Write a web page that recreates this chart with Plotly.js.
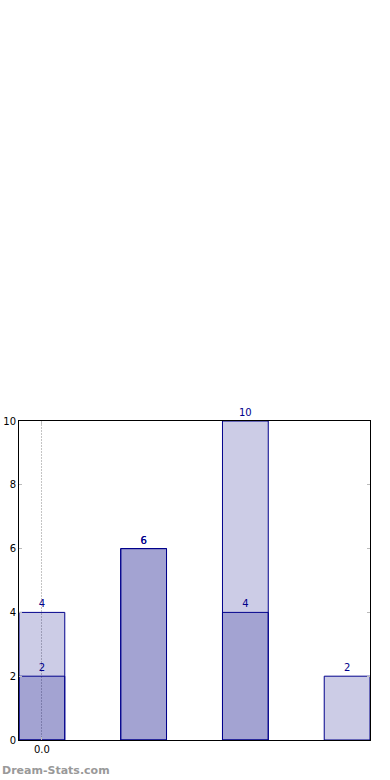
<!DOCTYPE html>
<html>
<head>
<meta charset="utf-8">
<script src="https://cdn.plot.ly/plotly-3.0.1.min.js"></script>
<style>html,body{margin:0;padding:0;background:#fff;}#chart{width:390px;height:780px;}</style>
</head>
<body>
<div id="chart"></div>
<script>
const positions = [0, 1, 2, 3];
const seriesLight = [4, 6, 10, 2];
const seriesDark = [2, 6, 4, null];
const xTickVals = [0];
const xTickText = ["0.0"];
const yTickVals = [0, 2, 4, 6, 8, 10];

const barStyle = {
  color: 'rgba(0,0,128,0.2)',
  line: {color: '#00008B', width: 1}
};
function mk(vals) {
  return {
    type: 'bar', x: positions, y: vals, width: 0.45,
    marker: barStyle,
    text: vals.map(v => v == null ? '' : String(v)),
    textposition: 'outside', cliponaxis: false,
    textfont: {family: 'DejaVu Sans', size: 10, color: '#00008B'},
    hoverinfo: 'none', showlegend: false
  };
}
const data = [mk(seriesLight), mk(seriesDark)];
const layout = {
  width: 390, height: 780,
  margin: {l: 19, r: 20, t: 421, b: 40, pad: 0},
  paper_bgcolor: '#fff', plot_bgcolor: '#fff',
  barmode: 'overlay',
  font: {family: 'DejaVu Sans', size: 10, color: '#000'},
  xaxis: {
    range: [-0.225, 3.225], tickmode: 'array', tickvals: xTickVals, ticktext: xTickText,
    showgrid: true, gridcolor: '#c4c4c4', griddash: '2px,1px', gridwidth: 1,
    zeroline: false, showline: true, linecolor: '#000', linewidth: 1, mirror: 'ticks',
    ticks: 'inside', ticklen: 3, tickcolor: '#bbbbbb'
  },
  yaxis: {
    range: [0, 10], tickmode: 'array', tickvals: yTickVals,
    showgrid: false, zeroline: false, showline: true, linecolor: '#000', linewidth: 1, mirror: 'ticks',
    ticks: 'inside', ticklen: 3, tickcolor: '#bbbbbb'
  },
  annotations: [{
    text: '<b>Dream-Stats.com</b>', xref: 'paper', yref: 'paper',
    x: -19/351, y: -30/319, xanchor: 'left', yanchor: 'middle', showarrow: false,
    font: {family: 'DejaVu Sans', size: 11, color: '#999999'}
  }]
};
Plotly.newPlot('chart', data, layout, {staticPlot: true, displayModeBar: false});
</script>
</body>
</html>
